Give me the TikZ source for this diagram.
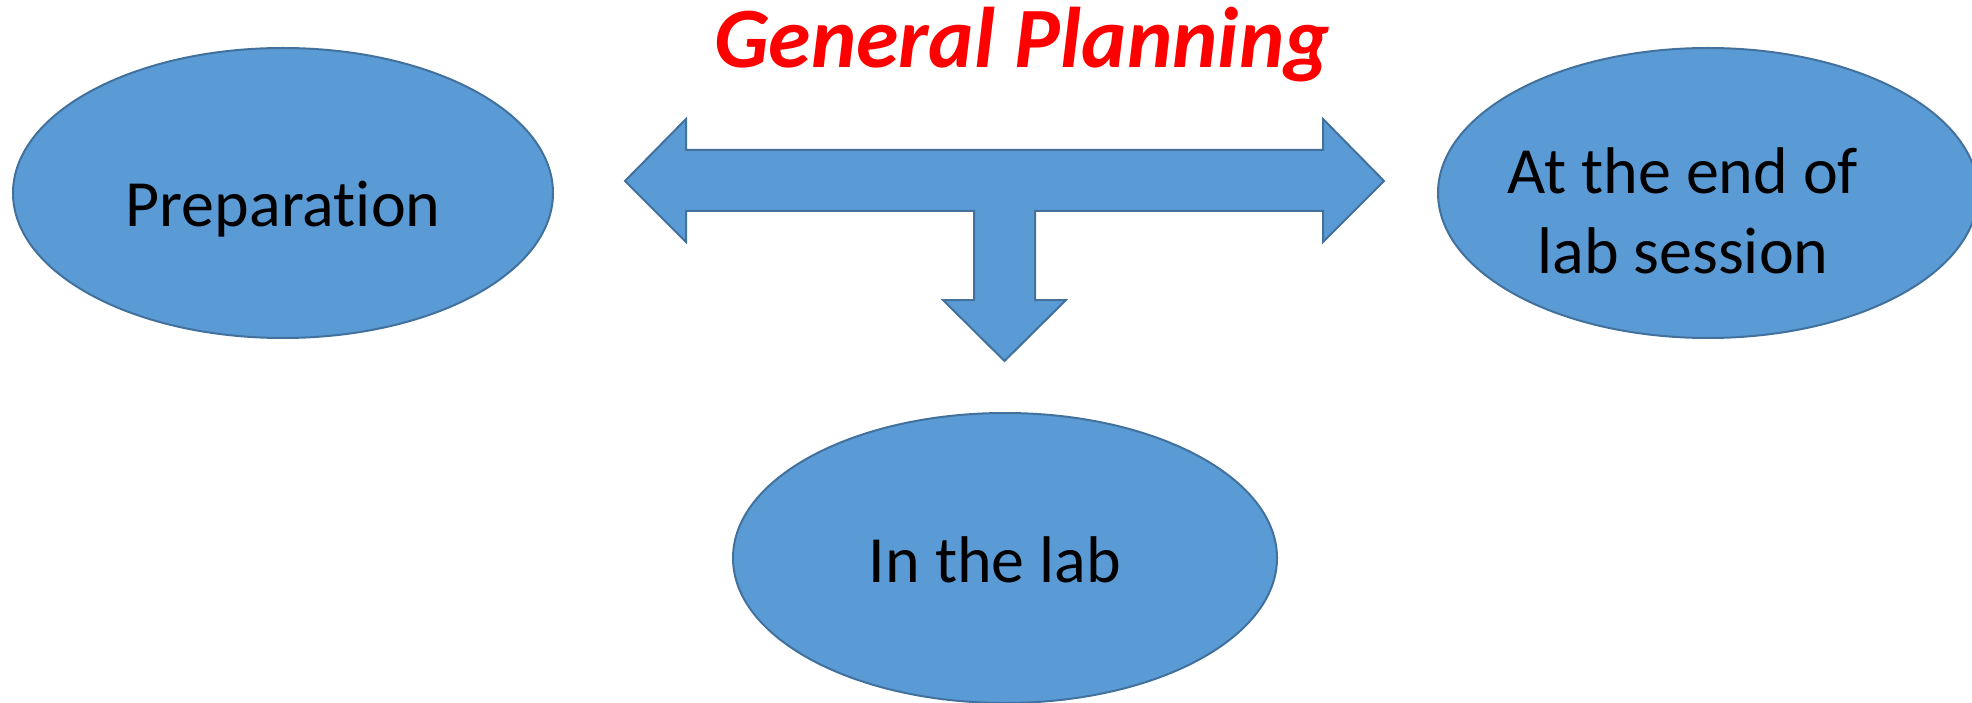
\documentclass[tikz,border=0pt]{standalone}
\usepackage{fontspec}
\setmainfont[Ligatures=NoCommon]{Carlito}
\usetikzlibrary{shapes.geometric}

\definecolor{phasefill}{HTML}{5B9BD5}
\definecolor{phaseline}{HTML}{41719C}

\begin{document}
\begin{tikzpicture}[x=1pt,y=-1pt,
  phase/.style={ellipse,draw=phaseline,fill=phasefill,line width=2pt,inner sep=0pt,minimum width=540pt,minimum height=290pt},
  phasetext/.style={anchor=base,inner sep=0pt,align=center,font=\fontsize{66}{80}\selectfont},
  blockarrow/.style={draw=phaseline,fill=phasefill,line width=2pt,line join=miter}]
\useasboundingbox (0,0) rectangle (1972,703);

% title
\node[anchor=base,inner sep=0pt,text=red,font=\fontsize{86}{100}\selectfont\bfseries\itshape] (title) at (1022,68) {General Planning};

% the three phases
\node[phase] (prep) at (283,193) {};
\node[phasetext] (preptext) at (283,227) {Preparation};

\node[phase] (endsession) at (1708,193) {};
\node[phasetext] (endtext) at (1683,273) {At the end of\\lab session};

\node[phase,minimum width=544pt] (lab) at (1005,558) {};
\node[phasetext] (labtext) at (995,582) {In the lab};

% block arrow
\draw[blockarrow] (625,181) -- (686,119) -- (686,150) -- (1323,150) -- (1323,119) -- (1384,181)
  -- (1323,242) -- (1323,211) -- (1035,211) -- (1035,300) -- (1066,300) -- (1004.5,361)
  -- (943,300) -- (974,300) -- (974,211) -- (686,211) -- (686,242) -- cycle;
\end{tikzpicture}
\end{document}
